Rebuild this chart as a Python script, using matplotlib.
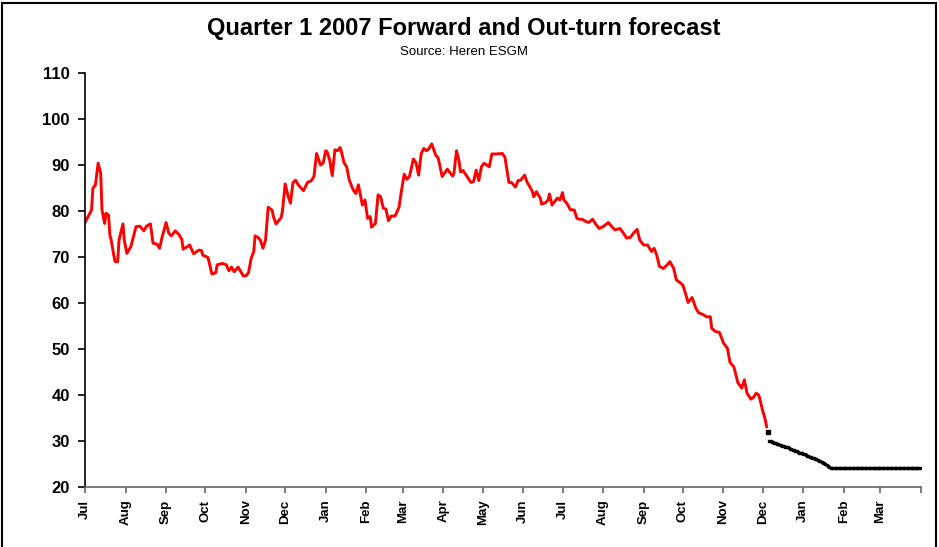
import datetime as dt
import matplotlib
matplotlib.use("Agg")
import matplotlib.pyplot as plt
import pandas as pd
from matplotlib.patches import Rectangle

plt.rcParams['font.family'] = ['Liberation Sans', 'DejaVu Sans']

start = dt.date(2005, 7, 1)

# forward price, days counted from 1 Jul 2005
red_day = [0, 5, 6, 8, 10, 12, 13, 15, 16, 18, 19, 20, 22, 23, 25, 26, 29, 30, 32, 35,
           39, 42, 45, 47, 50, 52, 55, 57, 59, 62, 64, 66, 69, 72, 74, 75, 78, 80, 83, 87,
           89, 90, 94, 97, 100, 101, 105, 108, 110, 112, 114, 117, 121, 123, 125, 127, 129, 130, 132, 134,
           136, 138, 140, 143, 144, 146, 150, 151, 153, 155, 157, 159, 161, 163, 167, 170, 173, 175, 177, 180,
           182, 184, 185, 187, 189, 191, 193, 195, 196, 198, 200, 202, 205, 207, 209, 212, 214, 216, 218, 219,
           222, 224, 226, 228, 230, 232, 234, 237, 240, 242, 244, 246, 248, 251, 253, 255, 257, 259, 261, 263,
           265, 268, 270, 273, 277, 279, 281, 282, 284, 286, 287, 289, 292, 295, 297, 299, 301, 303, 305, 309,
           311, 314, 319, 321, 324, 326, 329, 331, 333, 336, 338, 340, 342, 343, 345, 348, 349, 352, 354, 355,
           357, 361, 363, 365, 366, 368, 371, 374, 376, 378, 380, 383, 385, 388, 390, 393, 396, 400, 403, 405,
           409, 412, 414, 417, 419, 422, 424, 427, 430, 433, 435, 437, 439, 442, 445, 447, 450, 452, 455, 457,
           459, 461, 464, 467, 469, 473, 475, 478, 479, 482, 485, 488, 491, 493, 496, 499, 502, 504, 506, 509,
           511, 513, 515, 516, 518, 520, 521]
red_val = [77.5, 80.2, 84.9, 85.7, 90.4, 88.2, 80.2, 77.3, 79.5, 79.1, 74.8, 73.7, 70.4, 69.0, 69.0, 73.7, 77.2, 73.7, 70.8, 72.2,
           76.6, 76.7, 75.7, 76.7, 77.2, 73.0, 72.8, 71.9, 74.4, 77.5, 75.2, 74.6, 75.7, 74.8, 73.8, 71.7, 72.2, 72.6, 70.7, 71.5,
           71.4, 70.4, 69.9, 66.3, 66.6, 68.3, 68.6, 68.3, 67.0, 67.8, 66.8, 67.8, 65.9, 65.9, 66.6, 69.7, 71.2, 74.6, 74.3, 73.7,
           71.9, 73.7, 80.8, 80.2, 78.8, 77.2, 78.6, 80.2, 85.9, 83.5, 81.7, 86.2, 86.7, 85.7, 84.4, 86.2, 86.6, 87.5, 92.5, 90.0,
           90.4, 93.1, 92.9, 91.1, 87.7, 93.3, 93.1, 93.8, 92.9, 90.5, 89.6, 86.7, 84.6, 83.8, 85.7, 81.3, 82.4, 78.4, 78.8, 76.5,
           77.3, 83.5, 83.1, 80.6, 80.4, 77.9, 78.9, 78.9, 80.8, 84.6, 88.0, 86.9, 87.5, 91.3, 90.5, 87.8, 92.5, 93.6, 93.1, 93.6,
           94.6, 92.2, 91.5, 87.5, 89.1, 88.3, 87.6, 88.2, 93.1, 90.7, 88.5, 88.8, 87.5, 86.2, 86.4, 88.9, 86.6, 89.6, 90.4, 89.6,
           92.4, 92.4, 92.5, 91.7, 86.2, 86.2, 85.2, 86.6, 86.7, 87.8, 86.2, 85.3, 84.2, 83.1, 84.2, 82.8, 81.5, 81.8, 82.4, 83.7,
           81.3, 82.8, 82.4, 84.0, 82.4, 81.8, 80.3, 80.2, 78.4, 78.2, 78.2, 77.7, 77.5, 78.2, 77.3, 76.2, 76.6, 77.5, 76.5, 75.9,
           76.2, 75.0, 74.1, 74.3, 75.1, 76.0, 73.7, 72.6, 72.6, 71.2, 71.9, 70.4, 68.0, 67.5, 68.3, 69.0, 67.5, 65.0, 64.4, 63.9,
           62.1, 60.1, 61.2, 58.8, 57.9, 57.4, 57.0, 57.0, 54.5, 53.8, 53.6, 51.3, 50.2, 47.1, 46.1, 42.7, 41.5, 43.3, 40.4, 39.1,
           39.5, 40.4, 40.0, 38.9, 36.6, 34.6, 33.1]

# out-turn forecast, daily from 5 Dec 2006
blk_first_day = 522
blk_first_val = 32.0
blk_start_day = 523
blk_val = [30.0, 29.9, 29.8, 29.8, 29.6, 29.5, 29.4, 29.3, 29.2, 29.1, 29.0, 28.9, 28.8, 28.7, 28.6, 28.4,
           28.3, 28.2, 28.1, 28.0, 27.9, 27.8, 27.6, 27.5, 27.4, 27.3, 27.2, 27.1, 27.0, 26.8, 26.7, 26.6,
           26.5, 26.4, 26.2, 26.1, 26.0, 25.9, 25.7, 25.6, 25.5, 25.3, 25.2, 25.0, 24.8, 24.6, 24.4, 24.2] + [24.2] * 68

month_ticks = pd.date_range('2005-07-01', '2007-04-01', freq='MS')
month_labels = ['Jul', 'Aug', 'Sep', 'Oct', 'Nov', 'Dec', 'Jan', 'Feb', 'Mar', 'Apr', 'May', 'Jun',
                'Jul', 'Aug', 'Sep', 'Oct', 'Nov', 'Dec', 'Jan', 'Feb', 'Mar', '']

red_dates = [start + dt.timedelta(days=d) for d in red_day]
blk_dates = [start + dt.timedelta(days=blk_start_day + i) for i in range(len(blk_val))]

fig = plt.figure(figsize=(9.39, 5.47), dpi=100)
ax = fig.add_axes([85 / 939, 1 - 487 / 547, 836 / 939, 414 / 547])

ax.plot(red_dates, red_val, color='#ff0000', lw=2.1)
ax.plot(blk_dates, blk_val, color='black', lw=0.9, marker='s', ms=1.5, mec='black')
ax.plot([start + dt.timedelta(days=blk_first_day)], [blk_first_val], 's', color='black', ms=3.2)

ax.set_ylim(20, 110)
ax.set_yticks(range(20, 111, 10))
ax.set_xlim(month_ticks[0], month_ticks[-1])
ax.set_xticks(month_ticks)
ax.set_xticklabels(month_labels, rotation=90, va='top', ha='center', fontsize=9.5, fontweight='bold')
for lab in ax.get_yticklabels():
    lab.set_fontweight('bold')
    lab.set_fontsize(12)

ax.spines['top'].set_visible(False)
ax.spines['right'].set_visible(False)
ax.spines['left'].set_color('black')
ax.spines['left'].set_linewidth(1.2)
ax.spines['bottom'].set_color('#666666')
ax.spines['bottom'].set_linewidth(1.2)
ax.tick_params(axis='y', direction='out', length=5, width=1.2, pad=6, colors='black')
ax.tick_params(axis='x', direction='out', length=4, width=1.2, pad=5, color='#666666', labelcolor='black')

fig.text(464 / 939, 1 - 29 / 547, 'Quarter 1 2007 Forward and Out-turn forecast',
         ha='center', va='center', fontsize=17, fontweight='bold')
fig.text(464 / 939, 1 - 52 / 547, 'Source: Heren ESGM', ha='center', va='center', fontsize=9.5)

# frame round the chart
fig.patches.append(Rectangle((1.5 / 939, -0.01), 934 / 939, 1.01 - 2.5 / 547, transform=fig.transFigure,
                             fill=False, edgecolor='black', lw=1.5))

fig.savefig('out.png', dpi=100)
